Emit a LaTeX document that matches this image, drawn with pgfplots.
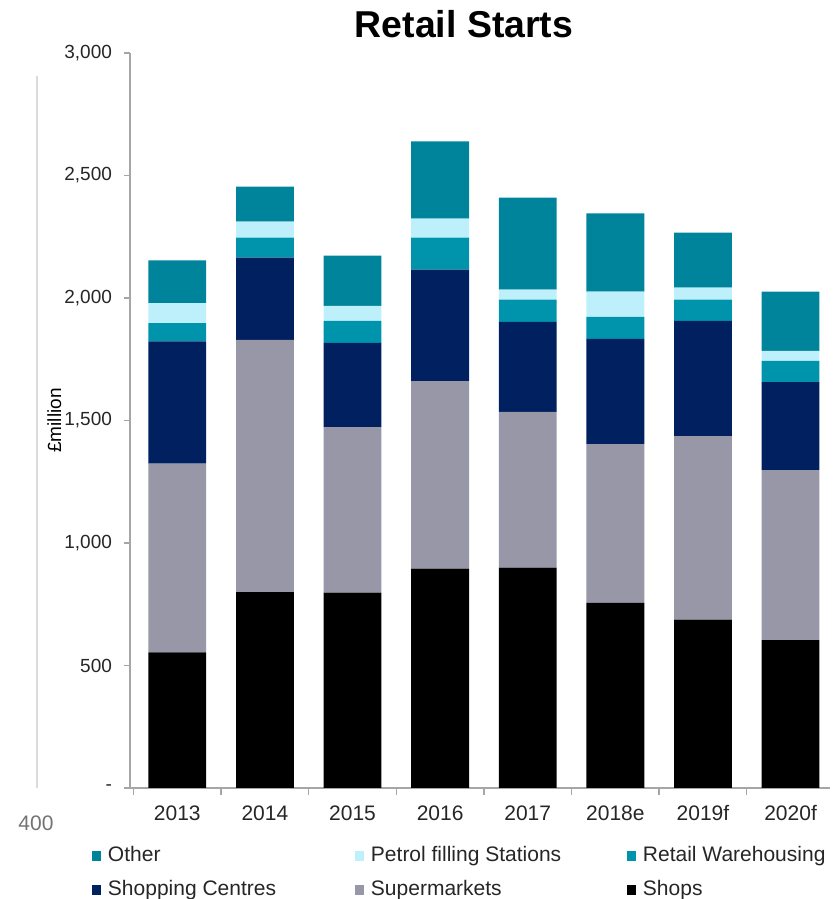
\documentclass[border=0pt]{standalone}
\usepackage{fontspec}
\setmainfont{Liberation Sans}
\usepackage{pgfplots}
\usepackage{pgfplotstable}
\pgfplotsset{compat=1.18}
\definecolor{cOther}{HTML}{00849C}
\definecolor{cPetrol}{HTML}{BDF0FB}
\definecolor{cRetail}{HTML}{0094AC}
\definecolor{cShopC}{HTML}{002060}
\definecolor{cSuper}{HTML}{9797A7}
\definecolor{cShops}{HTML}{000000}
\definecolor{axgray}{HTML}{A6A6A6}

\pgfplotstableread{
x shops super shopc retail petrol other
0 554 770 499 74 82 175
1 799 1030 336 81 66 143
2 797 676 344 90 61 205
3 895 766 455 130 78 315
4 899 636 368 90 41 376
5 756 648 429 90 103 319
6 687 749 471 86 49 225
7 604 693 360 86 41 242
}\data

\pgfplotsset{mybar/.style={draw=none, legend image code/.code={\fill[##1, draw=none] (0pt,0pt) rectangle (4.5pt,5pt);}}}

\begin{document}
\begin{tikzpicture}
\useasboundingbox (-65pt,-55.5pt) rectangle (352.5pt,394pt);
\draw[color=black!14, line width=0.6pt] (-46.5pt,0pt) -- (-46.5pt,356pt);
\node[text=black!55, font=\fontsize{10.5}{12}\selectfont] at (-47pt,-17.5pt) {400};
\begin{axis}[
  at={(0,0)}, anchor=south west,
  scale only axis, width=350pt, height=367.5pt,
  ybar stacked, bar width=0.66,
  xmin=-0.54, xmax=7.45, ymin=0, ymax=3000,
  axis lines*=left,
  axis line style={axgray, line width=0.7pt},
  tick align=outside,
  major tick length=3pt, minor tick length=3.5pt,
  tick style={axgray, line width=0.7pt},
  major x tick style={draw=none},
  ytick={0,500,...,3000},
  yticklabels={-,500,{1,000},{1,500},{2,000},{2,500},{3,000}},
  xtick={0,...,7},
  xticklabels={2013,2014,2015,2016,2017,2018e,2019f,2020f},
  minor xtick={-0.5,0.5,...,7.5},
  yticklabel style={font=\fontsize{9.5}{11}\selectfont, xshift=-2.5pt, text=black!85},
  xticklabel style={font=\fontsize{10.5}{12}\selectfont, text height=7.6pt, text depth=0pt, yshift=-2pt, text=black!85},
  ylabel={£million},
  every axis y label/.style={at={(axis description cs:-0.108,0.5)}, rotate=90, anchor=center, font=\fontsize{9.5}{11}\selectfont},
  legend columns=3,
  reverse legend,
  legend style={at={(axis description cs:-0.0543,-0.0776)}, anchor=north west,
    draw=none, fill=none, inner sep=0pt, outer sep=0pt,
    font=\fontsize{10.5}{12}\selectfont, text=black!85,
    nodes={inner xsep=0pt, inner ysep=0pt, text height=8pt, text depth=2pt, anchor=base west},
    row sep=7pt,
    /tikz/every odd column/.append style={column sep=3.5pt},
    /tikz/every even column/.append style={column sep=0pt}},
]
\addplot[mybar, fill=cShops] table[x=x, y=shops]{\data};
\addlegendentry{Shops}
\addplot[mybar, fill=cSuper] table[x=x, y=super]{\data};
\addlegendentry{\makebox[128pt][l]{Supermarkets}}
\addplot[mybar, fill=cShopC] table[x=x, y=shopc]{\data};
\addlegendentry{\makebox[123.5pt][l]{Shopping Centres}}
\addplot[mybar, fill=cRetail] table[x=x, y=retail]{\data};
\addlegendentry{Retail Warehousing}
\addplot[mybar, fill=cPetrol] table[x=x, y=petrol]{\data};
\addlegendentry{\makebox[128pt][l]{Petrol filling Stations}}
\addplot[mybar, fill=cOther] table[x=x, y=other]{\data};
\addlegendentry{\makebox[123.5pt][l]{Other}}
\end{axis}
\node[anchor=base, font=\bfseries\fontsize{18.7}{22}\selectfont] at (167pt,375pt) {Retail Starts};
\end{tikzpicture}
\end{document}
